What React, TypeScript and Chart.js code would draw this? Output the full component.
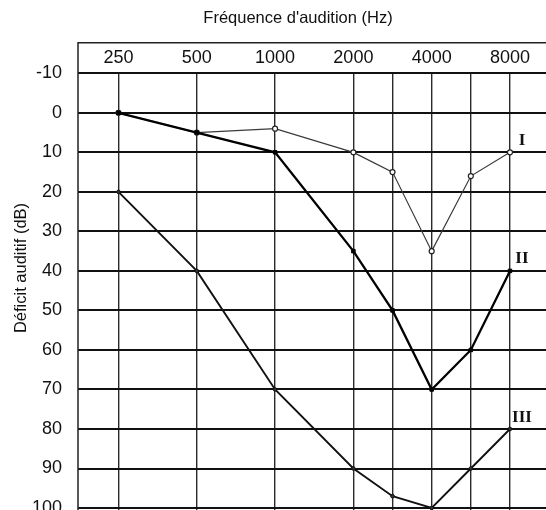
import React, { useEffect, useRef } from 'react';
import { Chart, registerables } from 'chart.js';

Chart.register(...registerables);

// ---- data ----
const frequencies = [250, 500, 1000, 2000, 3000, 4000, 6000, 8000];
// column position of each frequency on the audiogram (octaves from 250 Hz, 3000/6000 drawn as half-octaves)
const octavePositions = [0, 1, 2, 3, 3.5, 4, 4.5, 5];
const frequencyTickLabels = ['250', '500', '1000', '2000', '', '4000', '', '8000'];
const dbTicks = [-10, 0, 10, 20, 30, 40, 50, 60, 70, 80, 90, 100];
const curveI = [0, 5, 4, 10, 15, 35, 16, 10];
const curveII = [0, 5, 10, 35, 50, 70, 60, 40];
const curveIII = [20, 40, 70, 90, 97, 100, 90, 80];
const curveNames = ['I', 'II', 'III'];
const curveNameDb = [7, 37, 77];
const xTitle = "Fréquence d'audition (Hz)";
const yTitle = 'Déficit auditif (dB)';

const SANS = '"Liberation Sans", Arial, Helvetica, sans-serif';
const SERIF = '"Liberation Serif", "Times New Roman", serif';

const toPoints = (vals: number[]) => vals.map((v, i) => ({ x: octavePositions[i], y: v, f: frequencies[i] }));

const decorPlugin = {
  id: 'decor',
  beforeDraw(chart: any) {
    const { ctx, width, height } = chart;
    ctx.save();
    ctx.fillStyle = '#ffffff';
    ctx.fillRect(0, 0, width, height);
    ctx.restore();
  },
  afterDatasetsDraw(chart: any) {
    const { ctx, scales } = chart;
    const xs = scales.x;
    const ys = scales.y;
    ctx.save();
    ctx.fillStyle = '#111';
    ctx.font = 'bold 17px ' + SERIF;
    ctx.textAlign = 'center';
    ctx.textBaseline = 'middle';
    const lastX = xs.getPixelForValue(octavePositions[octavePositions.length - 1]);
    curveNames.forEach((n, i) => {
      ctx.fillText(n, lastX + 12, ys.getPixelForValue(curveNameDb[i]));
    });
    ctx.restore();
  },
  afterDraw(chart: any) {
    const { ctx, chartArea, scales } = chart;
    const xs = scales.x;
    ctx.save();
    ctx.strokeStyle = '#222';
    ctx.lineWidth = 1.5;
    ctx.beginPath();
    ctx.moveTo(chartArea.left, chartArea.bottom);
    ctx.lineTo(chartArea.left, xs.top);
    ctx.lineTo(chartArea.right, xs.top);
    ctx.stroke();

    ctx.fillStyle = '#111';
    ctx.font = '16.5px ' + SANS;
    ctx.textAlign = 'center';
    ctx.textBaseline = 'alphabetic';
    ctx.fillText(xTitle, 298, 22.7);

    ctx.translate(25.5, 268);
    ctx.rotate(-Math.PI / 2);
    ctx.fillText(yTitle, 0, 0);
    ctx.restore();
  },
};

export default function App() {
  const canvasRef = useRef<HTMLCanvasElement | null>(null);

  useEffect(() => {
    if (!canvasRef.current) return;
    const chart = new Chart(canvasRef.current, {
      type: 'line',
      data: {
        datasets: [
          {
            label: 'II',
            data: toPoints(curveII),
            borderColor: '#000',
            borderWidth: 2.3,
            pointStyle: 'rect',
            pointRadius: 2.5,
            pointBackgroundColor: '#000',
            pointBorderColor: '#000',
            pointBorderWidth: 1,
          },
          {
            label: 'III',
            data: toPoints(curveIII),
            borderColor: '#111',
            borderWidth: 1.9,
            pointRadius: 1.8,
            pointBackgroundColor: '#333',
            pointBorderColor: '#111',
            pointBorderWidth: 1,
          },
          {
            label: 'I',
            data: toPoints(curveI),
            borderColor: '#3a3a3a',
            borderWidth: 1.2,
            pointRadius: 2.5,
            pointBackgroundColor: '#fff',
            pointBorderColor: '#222',
            pointBorderWidth: 1.2,
          },
        ],
      },
      options: {
        responsive: false,
        animation: false,
        events: [],
        layout: { padding: { top: 42.7, left: 0, right: 0, bottom: 0 }, autoPadding: false },
        plugins: { legend: { display: false }, tooltip: { enabled: false }, title: { display: false } },
        elements: { line: { tension: 0 } },
        scales: {
          x: {
            type: 'linear',
            position: 'top',
            min: -0.517,
            max: 5.46,
            afterBuildTicks: (scale: any) => {
              scale.ticks = octavePositions.map((v) => ({ value: v }));
            },
            afterFit: (scale: any) => {
              scale.height = 30.6;
              scale.paddingLeft = 0;
              scale.paddingRight = 0;
            },
            ticks: {
              autoSkip: false,
              maxRotation: 0,
              padding: 1,
              color: '#111',
              font: { size: 18, family: SANS, lineHeight: 1.64 },
              callback: (_v: any, i: number) => frequencyTickLabels[i],
            },
            grid: { drawTicks: false, color: '#2a2a2a', lineWidth: 1.4 },
            border: { display: false },
          },
          y: {
            type: 'linear',
            reverse: true,
            min: -10,
            max: 100.5,
            afterBuildTicks: (scale: any) => {
              scale.ticks = dbTicks.map((v) => ({ value: v }));
            },
            afterFit: (scale: any) => {
              scale.width = 78;
              scale.paddingTop = 0;
              scale.paddingBottom = 0;
            },
            ticks: {
              padding: 16,
              color: '#111',
              font: { size: 18, family: SANS },
            },
            grid: { drawTicks: false, color: '#111', lineWidth: 2 },
            border: { display: false },
          },
        },
      },
      plugins: [decorPlugin],
    } as any);
    return () => chart.destroy();
  }, []);

  return (
    <div style={{ position: 'absolute', left: 0, top: 0, width: 546, height: 510, background: '#fff' }}>
      <canvas ref={canvasRef} width={546} height={510} style={{ display: 'block' }} />
    </div>
  );
}
